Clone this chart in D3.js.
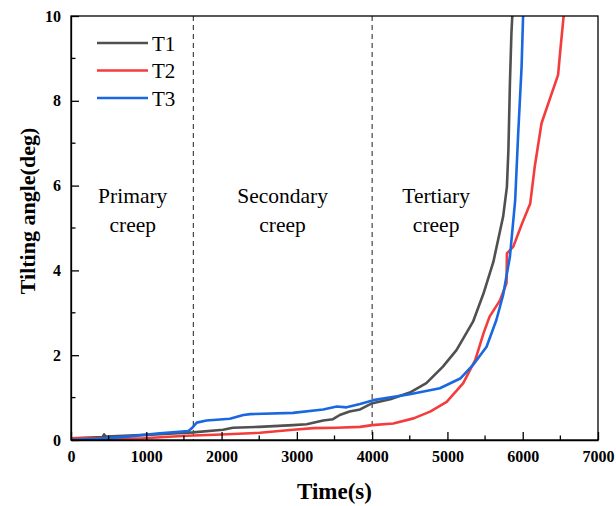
<!DOCTYPE html>
<html>
<head>
<meta charset="utf-8">
<script src="https://cdn.jsdelivr.net/npm/d3@7"></script>
<style>
  body { margin: 0; background: #fff; }
  svg text { font-family: "Liberation Serif", "Times New Roman", serif; }
  .axis path, .axis line { stroke: #000; stroke-width: 1.3; }
</style>
</head>
<body>
<svg id="chart" width="616" height="506"></svg>
<script>
  // series: [time (s), tilting angle (deg)]
  var t1 = [[0,0.04],[250,0.06],[420,0.07],[440,0.13],[460,0.08],[700,0.1],[1000,0.12],[1300,0.15],[1620,0.18],[2020,0.24],[2150,0.29],[2500,0.31],[2950,0.35],[3130,0.37],[3350,0.46],[3480,0.49],[3570,0.59],[3700,0.67],[3840,0.72],[3990,0.86],[4240,0.96],[4500,1.12],[4720,1.34],[4940,1.73],[5120,2.12],[5340,2.79],[5480,3.46],[5610,4.2],[5740,5.27],[5790,5.97],[5810,6.84],[5830,8.41],[5850,9.59],[5870,10.3]];
  var t2 = [[0,0.04],[500,0.03],[960,0.04],[1250,0.07],[1540,0.1],[2000,0.13],[2510,0.17],[2950,0.24],[3220,0.28],[3530,0.29],[3840,0.31],[4000,0.35],[4280,0.39],[4550,0.51],[4770,0.67],[4990,0.9],[5210,1.34],[5370,1.89],[5480,2.52],[5560,2.91],[5700,3.3],[5785,3.7],[5790,4.4],[5875,4.56],[5990,5.1],[6100,5.58],[6160,6.45],[6250,7.47],[6340,7.94],[6470,8.61],[6500,9.2],[6560,10.3]];
  var t3 = [[0,0],[340,0.02],[740,0.08],[1180,0.16],[1560,0.21],[1600,0.27],[1670,0.41],[1800,0.46],[2110,0.5],[2290,0.59],[2380,0.61],[2950,0.64],[3350,0.72],[3530,0.79],[3660,0.77],[3840,0.85],[4015,0.94],[4500,1.08],[4900,1.22],[5170,1.45],[5340,1.77],[5520,2.2],[5650,2.83],[5740,3.42],[5830,4.32],[5900,5.66],[5940,7.23],[5985,8.8],[6010,10.3]];
  var seriesNames = ['T1', 'T2', 'T3'];
  var seriesColors = ['#505050', '#f53c3c', '#1a68e0'];
  var phaseBounds = [1625, 4000];
  var phaseLabels = [['Primary', 'creep', 820], ['Secondary', 'creep', 2810], ['Tertiary', 'creep', 4850]];
  var xTicks = [0, 1000, 2000, 3000, 4000, 5000, 6000, 7000];
  var yTicks = [0, 2, 4, 6, 8, 10];

  var svg = d3.select('#chart'),
      margin = {top: 16, right: 18, bottom: 66, left: 71},
      width = +svg.attr('width') - margin.left - margin.right,
      height = +svg.attr('height') - margin.top - margin.bottom,
      g = svg.append('g').attr('transform', 'translate(' + margin.left + ',' + margin.top + ')');

  var x = d3.scaleLinear().domain([0, 7000]).range([0, width]);
  var y = d3.scaleLinear().domain([0, 10]).range([height, 0]);

  g.append('defs').append('clipPath').attr('id', 'clipper')
    .append('rect').attr('width', width).attr('height', height);

  // phase boundaries
  g.selectAll('.phase')
    .data(phaseBounds)
    .enter().append('line')
      .attr('class', 'phase')
      .attr('x1', function (d) { return x(d); })
      .attr('x2', function (d) { return x(d); })
      .attr('y1', 0).attr('y2', height)
      .attr('stroke', '#333').attr('stroke-width', 1.1)
      .attr('stroke-dasharray', '5,4');

  // phase labels
  phaseLabels.forEach(function (p) {
    var txt = g.append('text')
        .attr('x', x(p[2]))
        .attr('y', 187)
        .attr('text-anchor', 'middle')
        .style('font-size', '21.5px');
    txt.append('tspan').attr('x', x(p[2])).attr('dy', 0).text(p[0]);
    txt.append('tspan').attr('x', x(p[2])).attr('dy', 29).text(p[1]);
  });

  var line = d3.line()
      .x(function (d) { return x(d[0]); })
      .y(function (d) { return y(d[1]); });

  [t1, t2, t3].forEach(function (s, i) {
    g.append('path')
      .datum(s)
      .attr('clip-path', 'url(#clipper)')
      .attr('fill', 'none')
      .attr('stroke', seriesColors[i])
      .attr('stroke-width', 2.6)
      .attr('stroke-linejoin', 'round')
      .attr('d', line);
  });

  // frame
  g.append('rect')
    .attr('width', width).attr('height', height)
    .attr('fill', 'none').attr('stroke', '#000').attr('stroke-width', 1.3);

  // axes, ticks pointing inward
  var xAxis = g.append('g')
      .attr('class', 'x axis')
      .attr('transform', 'translate(0,' + height + ')')
      .call(d3.axisBottom(x).tickValues(xTicks).tickFormat(d3.format('d'))
        .tickSizeInner(-8).tickSizeOuter(0).tickPadding(11));
  xAxis.append('g').selectAll('line')
    .data(d3.range(500, 7000, 1000))
    .enter().append('line')
      .attr('x1', function (d) { return x(d); })
      .attr('x2', function (d) { return x(d); })
      .attr('y1', 0).attr('y2', -4.5);

  var yAxis = g.append('g')
      .attr('class', 'y axis')
      .call(d3.axisLeft(y).tickValues(yTicks).tickFormat(d3.format('d'))
        .tickSizeInner(-8).tickSizeOuter(0).tickPadding(10));
  yAxis.append('g').selectAll('line')
    .data(d3.range(1, 10, 2))
    .enter().append('line')
      .attr('x1', 0).attr('x2', 4.5)
      .attr('y1', function (d) { return y(d); })
      .attr('y2', function (d) { return y(d); });

  g.selectAll('.axis text')
    .attr('font-family', '"Liberation Serif", "Times New Roman", serif')
    .style('font-size', '16px')
    .style('font-weight', 'bold')
    .style('fill', '#000');

  // axis titles
  svg.append('text')
    .attr('x', margin.left + width / 2)
    .attr('y', 499)
    .attr('text-anchor', 'middle')
    .style('font-size', '23px').style('font-weight', 'bold')
    .text('Time(s)');

  svg.append('text')
    .attr('transform', 'translate(35,211) rotate(-90)')
    .attr('text-anchor', 'middle')
    .style('font-size', '22px').style('font-weight', 'bold')
    .text('Tilting angle(deg)');

  // legend
  var legend = g.selectAll('.legend')
    .data(seriesNames)
    .enter().append('g')
      .attr('class', 'legend')
      .attr('transform', function (d, i) { return 'translate(26,' + (27 + i * 27.5) + ')'; });
  legend.append('line')
    .attr('x1', 0).attr('x2', 51)
    .attr('stroke', function (d, i) { return seriesColors[i]; })
    .attr('stroke-width', 2.6);
  legend.append('text')
    .attr('x', 55).attr('y', 7.5)
    .style('font-size', '21px')
    .text(function (d) { return d; });
</script>
</body>
</html>
